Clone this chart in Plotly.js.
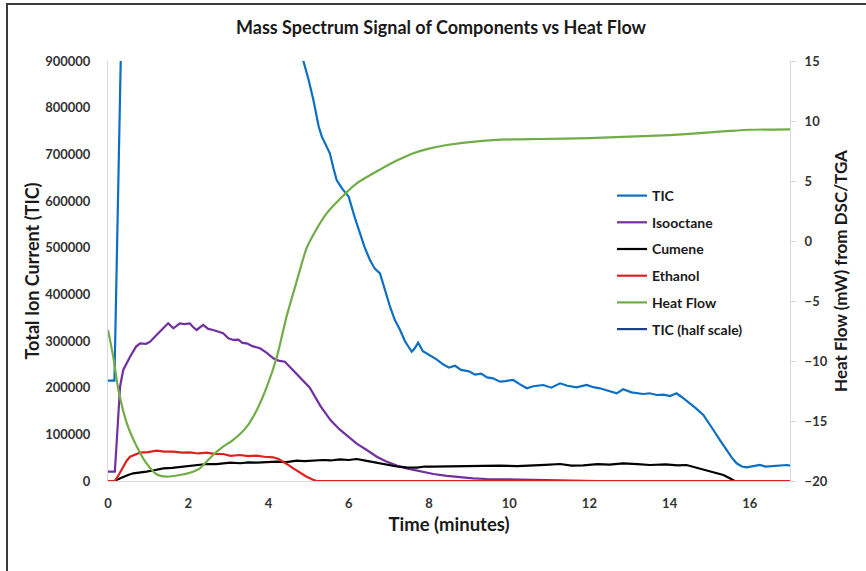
<!DOCTYPE html>
<html>
<head>
<meta charset="utf-8">
<script src="https://cdn.plot.ly/plotly-3.0.1.min.js"></script>
<style>
  html, body { margin: 0; padding: 0; background: #fff; }
  #wrap { position: relative; width: 866px; height: 571px; overflow: hidden; }
  #chart { position: absolute; left: 0; top: 0; width: 866px; height: 571px; }
  #frame { position: absolute; left: 6px; top: 3px; width: 900px; height: 600px;
           border-left: 2px solid #3a3a3a; border-top: 2px solid #3a3a3a; pointer-events: none; }
</style>
</head>
<body>
<div id="wrap"><div id="chart"></div><div id="frame"></div></div>
<script>
// ---- Data (time in minutes) ----
const ticTime = [0,0.16,0.34,4.6,4.87,5.0,5.12,5.25,5.33,5.45,5.53,5.62,5.70,5.85,6.0,6.15,6.28,6.4,6.53,6.65,6.78,6.9,7.03,7.15,7.28,7.4,7.57,7.65,7.73,7.85,7.94,8.05,8.19,8.35,8.5,8.65,8.8,9.0,9.15,9.3,9.45,9.6,9.77,9.9,10.1,10.25,10.44,10.6,10.85,11.05,11.27,11.45,11.68,11.93,12.1,12.26,12.45,12.68,12.84,13.05,13.34,13.5,13.68,13.85,14.01,14.17,14.3,14.5,14.65,14.84,15.0,15.09,15.25,15.42,15.55,15.67,15.8,15.92,16.1,16.25,16.4,16.58,16.75,16.92,17];
const ticValues = [215000,215000,1000000,1000000,900000,860000,816500,760000,737800,715000,702200,670000,645000,625000,609300,565000,530800,500000,473600,455000,445000,410000,373500,345000,323600,300000,277000,285000,296400,278000,273600,268000,260800,250000,243000,247000,238000,235000,228000,230000,222000,220000,212800,214000,216400,208000,198600,203000,205700,200000,209300,204000,200800,205700,201000,198600,194000,187900,196500,190000,186400,188000,184300,185000,182100,187900,180000,166500,156000,141400,122000,109300,88000,66400,50000,37900,31000,29300,32000,34300,31000,32100,34000,34300,33000];

const isoTime = [0,0.17,0.22,0.3,0.38,0.55,0.7,0.8,0.95,1.05,1.21,1.35,1.5,1.63,1.79,1.9,2.04,2.12,2.21,2.37,2.5,2.62,2.75,2.87,3.0,3.12,3.25,3.35,3.46,3.6,3.79,3.95,4.12,4.25,4.41,4.55,4.7,4.85,5.03,5.3,5.55,5.78,6.0,6.2,6.45,6.7,6.95,7.2,7.44,7.8,8.11,8.45,8.77,9.1,9.44,9.8,10.19,10.5,10.93,11.3,11.7,12.2,17];
const isoValues = [20000,20000,87900,202000,237900,266400,288000,295000,294000,298500,312900,325000,337900,327200,337900,336000,337900,330000,323600,334300,326000,323600,320000,316500,306000,302200,303000,296000,295000,289000,284400,275000,262900,258000,255700,243000,230800,215000,200000,160000,130000,110000,94000,80000,66400,52000,41400,33000,27200,20000,15000,11000,7900,5500,4300,3800,3600,2500,2000,1500,1000,0,0];

const cumTime = [0,0.17,0.25,0.38,0.5,0.63,0.8,0.96,1.15,1.38,1.6,1.88,2.1,2.3,2.46,2.7,2.85,3.05,3.3,3.5,3.71,3.95,4.21,4.45,4.7,4.9,5.1,5.37,5.55,5.78,6.0,6.2,6.45,6.7,6.95,7.2,7.44,7.7,7.9,8.11,8.5,8.94,9.3,9.77,10.2,10.6,10.9,11.27,11.55,11.85,12.2,12.5,12.84,13.2,13.51,13.9,14.2,14.42,14.6,14.92,15.15,15.34,15.5,15.62,17];
const cumValues = [0,0,4000,9200,13000,16500,18000,20000,23000,27200,28000,30600,33000,34000,36400,36000,38000,39200,38000,40000,39200,41000,41400,40500,43500,42500,44000,45000,44000,46500,45000,47100,43000,39200,35000,31000,29300,28500,31000,30600,31500,32100,31000,33000,32000,32800,34500,36400,33000,33600,36000,35000,37900,36000,34300,35500,33500,34300,30000,23600,18000,12900,6000,0,0];

const ethTime = [0,0.17,0.28,0.38,0.47,0.55,0.68,0.8,1.0,1.21,1.4,1.63,1.85,2.04,2.25,2.46,2.65,2.87,3.05,3.29,3.5,3.71,3.9,4.12,4.25,4.37,4.5,4.62,4.8,4.95,5.1,5.2,17];
const ethValues = [0,0,15000,30600,44000,52100,57000,60700,62000,65000,63000,62900,61000,61500,59000,60700,58000,57900,54000,55700,53500,54300,52000,50800,47000,41400,34000,27200,17000,9200,3000,0,0];

const hfTime = [0,0.13,0.26,0.47,0.72,0.96,1.21,1.46,1.79,2.04,2.29,2.62,2.87,3.12,3.46,3.71,3.96,4.21,4.45,4.7,4.95,5.2,5.45,5.78,6.2,6.78,7.2,7.61,8.0,8.44,9.27,10.1,10.77,12,13,14,15,15.5,16,17];
const hfValues = [-7.42,-9.64,-12.42,-15.19,-17.14,-18.53,-19.44,-19.64,-19.5,-19.31,-18.94,-17.83,-17.14,-16.58,-15.47,-14.08,-12.14,-9.64,-6.31,-3.4,-0.6,1.0,2.3,3.5,4.8,5.95,6.7,7.31,7.7,8.0,8.33,8.47,8.5,8.58,8.7,8.83,9.05,9.17,9.27,9.31];

const ticHalfTime = [null];
const ticHalfValues = [null];

const seriesNames = ['TIC','Isooctane','Cumene','Ethanol','Heat Flow','TIC (half scale)'];
const seriesColors = ['#0B6FC4','#7030A0','#000000','#E0201E','#70AD47','#203F8C'];

const xTickVals = [0,2,4,6,8,10,12,14,16];

const FONT = 'Lato, "Open Sans", "Liberation Sans", sans-serif';

function line(name, x, y, color, axis, shape) {
  return {
    type: 'scatter', mode: 'lines', name: name, x: x, y: y,
    yaxis: axis, legendgroup: name,
    line: { color: color, width: 2.2, shape: shape || 'linear', smoothing: 0.6 },
    hoverinfo: 'skip'
  };
}

const traces = [
  line(seriesNames[0], ticTime, ticValues, seriesColors[0], 'y'),
  line(seriesNames[1], isoTime, isoValues, seriesColors[1], 'y'),
  line(seriesNames[2], cumTime, cumValues, seriesColors[2], 'y'),
  line(seriesNames[3], ethTime, ethValues, seriesColors[3], 'y'),
  line(seriesNames[4], hfTime, hfValues, seriesColors[4], 'y2', 'spline'),
  line(seriesNames[5], ticHalfTime, ticHalfValues, seriesColors[5], 'y')
];

const tickFont = { family: FONT, size: 13, color: '#333333', weight: 'bold' };
const axTitleFont = (s) => ({ family: FONT, size: s, color: '#1a1a1a', weight: 'bold' });

const layout = {
  width: 866, height: 571,
  margin: { l: 108, r: 76, t: 61, b: 90 },
  paper_bgcolor: '#ffffff', plot_bgcolor: '#ffffff',
  font: { family: FONT },
  showlegend: true,
  title: {
    text: 'Mass Spectrum Signal of Components vs Heat Flow',
    font: { family: FONT, size: 18, color: '#1a1a1a', weight: 'bold' },
    x: 441 / 866, xanchor: 'center', xref: 'container',
    y: 1 - 28 / 571, yanchor: 'middle', yref: 'container'
  },
  xaxis: {
    range: [0, 17], tickvals: xTickVals, ticktext: xTickVals.map(String),
    showgrid: false, zeroline: false, showline: true, linecolor: '#d9d9d9', linewidth: 1,
    ticks: '', tickfont: tickFont, ticklabelstandoff: 10,
    title: { text: 'Time (minutes)', font: axTitleFont(18.5), standoff: 8 }
  },
  yaxis: {
    range: [0, 900000], dtick: 100000, tickformat: 'd',
    showgrid: false, zeroline: false, showline: true, linecolor: '#d9d9d9', linewidth: 1,
    ticks: '', tickfont: tickFont, ticklabelstandoff: 14,
    title: { text: 'Total Ion Current (TIC)', font: axTitleFont(18), standoff: 0 }
  },
  yaxis2: {
    range: [-20, 15], dtick: 5, overlaying: 'y', side: 'right',
    showgrid: false, zeroline: false, showline: true, linecolor: '#d9d9d9', linewidth: 1,
    ticks: 'outside', ticklen: 5, tickcolor: '#d9d9d9', tickfont: tickFont, ticklabelstandoff: 6,
    title: { text: 'Heat Flow (mW) from DSC/TGA', font: axTitleFont(17), standoff: 8 }
  },
  legend: {
    x: (612 - 108) / 682, xanchor: 'left',
    y: 1 - (180 - 61) / 420, yanchor: 'top',
    bgcolor: 'rgba(0,0,0,0)', borderwidth: 0,
    font: { family: FONT, size: 14, color: '#1a1a1a', weight: 'bold' },
    traceorder: 'grouped', tracegroupgap: 5.5
  }
};

Plotly.newPlot('chart', traces, layout, { staticPlot: true, displayModeBar: false });
</script>
</body>
</html>
